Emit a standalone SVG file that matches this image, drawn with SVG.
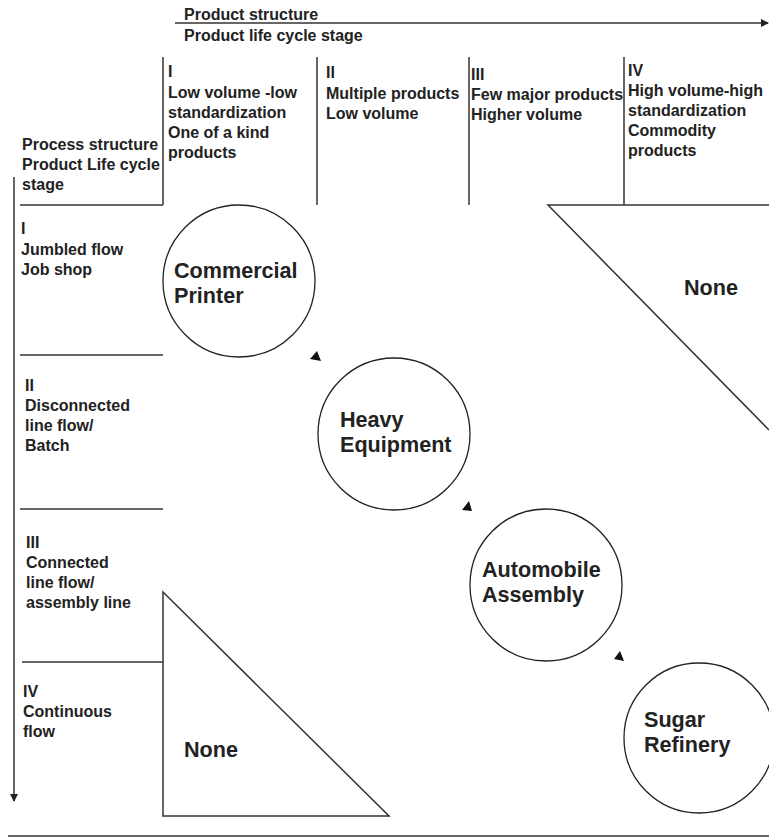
<svg xmlns="http://www.w3.org/2000/svg" width="769" height="839" viewBox="0 0 769 839">
<defs>
<style>
text{font-family:"Liberation Sans",Arial,sans-serif;font-weight:bold;fill:#222}
.s{font-size:16px}
.n{font-size:21.6px}
.ln{stroke:#333;stroke-width:1.5;fill:none}
.c{stroke:#222;stroke-width:1.3;fill:#fff}
.ah{fill:#111;stroke:none}
</style>
<marker id="arr" markerWidth="8" markerHeight="8" refX="7" refY="4" orient="auto" markerUnits="userSpaceOnUse">
<path d="M0,0 L8,4 L0,8 Z" fill="#222"/>
</marker>
</defs>
<rect width="769" height="839" fill="#fff"/>

<g id="axes">
<line class="ln" x1="175" y1="23" x2="768" y2="23" marker-end="url(#arr)"/>
<line class="ln" x1="14" y1="177" x2="14" y2="801" marker-end="url(#arr)"/>
<line class="ln" x1="8" y1="836" x2="769" y2="836"/>
<text class="s" x="184" y="20">Product structure</text>
<text class="s" x="184" y="41">Product life cycle stage</text>
</g>

<g id="grid">
<line class="ln" x1="163" y1="57" x2="163" y2="205"/>
<line class="ln" x1="317" y1="57" x2="317" y2="205"/>
<line class="ln" x1="469" y1="57" x2="469" y2="205"/>
<line class="ln" x1="624" y1="57" x2="624" y2="205"/>
<line class="ln" x1="20" y1="205" x2="163" y2="205"/>
<line class="ln" x1="20" y1="355" x2="163" y2="355"/>
<line class="ln" x1="20" y1="509" x2="163" y2="509"/>
<line class="ln" x1="22" y1="662" x2="163" y2="662"/>
</g>

<g id="header-process">
<text class="s" x="22" y="150">Process structure</text>
<text class="s" x="22" y="170">Product Life cycle</text>
<text class="s" x="22" y="190">stage</text>
</g>

<g id="col-1">
<text class="s" x="168" y="77">I</text>
<text class="s" x="168" y="98">Low volume -low</text>
<text class="s" x="168" y="118">standardization</text>
<text class="s" x="168" y="138">One of a kind</text>
<text class="s" x="168" y="158">products</text>
</g>
<g id="col-2">
<text class="s" x="326" y="78">II</text>
<text class="s" x="326" y="99">Multiple products</text>
<text class="s" x="326" y="119">Low volume</text>
</g>
<g id="col-3">
<text class="s" x="471" y="80">III</text>
<text class="s" x="471" y="100">Few major products</text>
<text class="s" x="471" y="120">Higher volume</text>
</g>
<g id="col-4">
<text class="s" x="628" y="76">IV</text>
<text class="s" x="628" y="96">High volume-high</text>
<text class="s" x="628" y="116">standardization</text>
<text class="s" x="628" y="136">Commodity</text>
<text class="s" x="628" y="156">products</text>
</g>

<g id="row-1">
<text class="s" x="21" y="234">I</text>
<text class="s" x="21" y="255">Jumbled flow</text>
<text class="s" x="21" y="275">Job shop</text>
</g>
<g id="row-2">
<text class="s" x="25" y="391">II</text>
<text class="s" x="25" y="411">Disconnected</text>
<text class="s" x="25" y="431">line flow/</text>
<text class="s" x="25" y="451">Batch</text>
</g>
<g id="row-3">
<text class="s" x="26" y="548">III</text>
<text class="s" x="26" y="568">Connected</text>
<text class="s" x="26" y="588">line flow/</text>
<text class="s" x="26" y="608">assembly line</text>
</g>
<g id="row-4">
<text class="s" x="23" y="697">IV</text>
<text class="s" x="23" y="717">Continuous</text>
<text class="s" x="23" y="737">flow</text>
</g>

<g id="none-top">
<path class="ln" d="M769,205 L548,205 L769,430"/>
<text class="n" x="684" y="295">None</text>
</g>
<g id="none-bottom">
<path class="ln" d="M163,592 L163,816 L389,816 Z"/>
<text class="n" x="184" y="757">None</text>
</g>

<g id="commercial-printer">
<circle class="c" cx="239" cy="281" r="76"/>
<text class="n" x="174" y="278">Commercial</text>
<text class="n" x="174" y="303">Printer</text>
</g>
<g id="heavy-equipment">
<circle class="c" cx="394" cy="434" r="76"/>
<text class="n" x="340" y="427">Heavy</text>
<text class="n" x="340" y="452">Equipment</text>
</g>
<g id="automobile-assembly">
<circle class="c" cx="546" cy="585" r="76"/>
<text class="n" x="482" y="577">Automobile</text>
<text class="n" x="482" y="602">Assembly</text>
</g>
<g id="sugar-refinery">
<circle class="c" cx="699" cy="738" r="75"/>
<text class="n" x="644" y="727">Sugar</text>
<text class="n" x="644" y="752">Refinery</text>
</g>

<g id="connectors">
<polygon class="ah" points="317,351 310,359 321,361"/>
<polygon class="ah" points="469,501 462,510 472,511"/>
<polygon class="ah" points="620,651 614,659 624,661"/>
</g>
</svg>
